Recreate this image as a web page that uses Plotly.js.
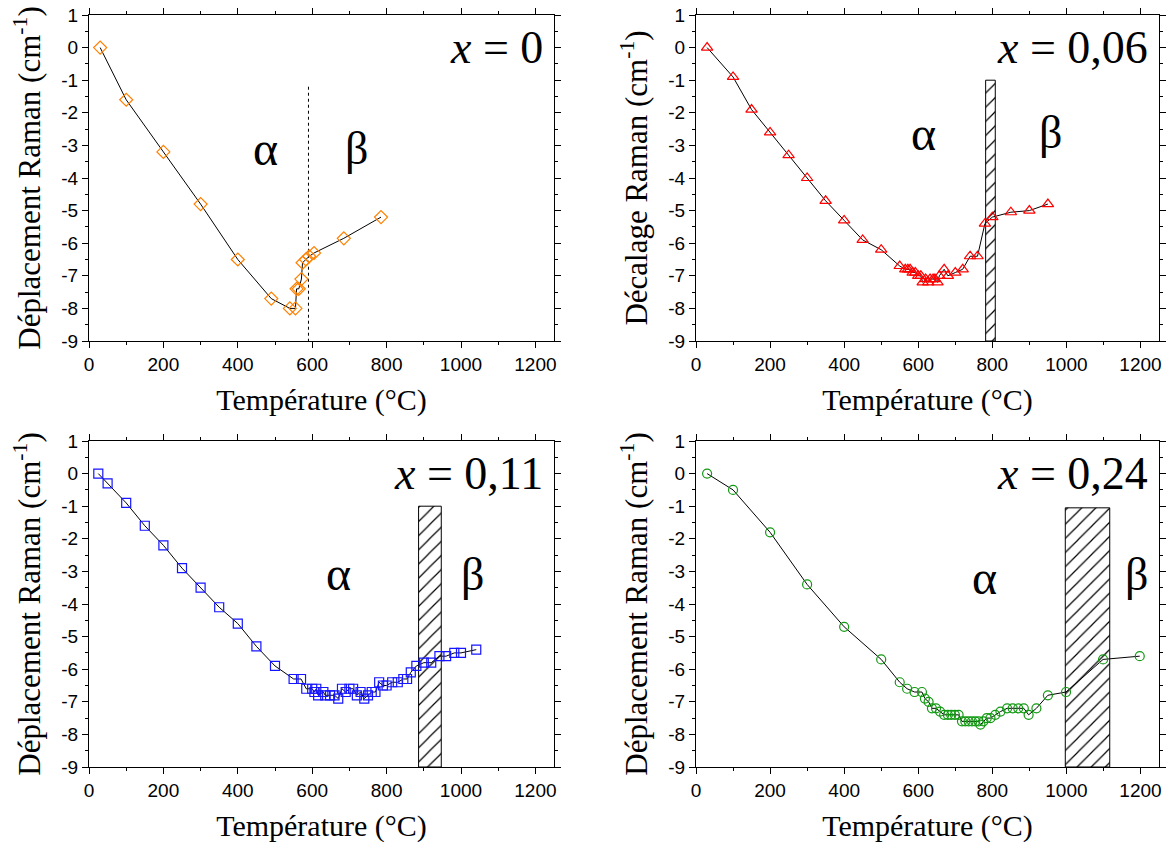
<!DOCTYPE html>
<html>
<head>
<meta charset="utf-8">
<script src="https://cdn.plot.ly/plotly-3.0.1.min.js"></script>
<style>html,body{margin:0;padding:0;background:#fff;}#chart{width:1173px;height:845px;}</style>
</head>
<body>
<div id="chart"></div>
<script>
// ---------- Data ----------
// x = 0 (orange diamonds)
const tempX0  = [30, 100, 200, 300, 400, 490, 540, 555, 558, 564, 571, 574, 583, 592, 605, 685, 785];
const shiftX0 = [0, -1.6, -3.2, -4.8, -6.5, -7.7, -8.0, -8.0, -7.4, -7.4, -7.1, -6.6, -6.5, -6.4, -6.3, -5.85, -5.2];

// x = 0,06 (red triangles)
const tempX06  = [30, 100, 150, 200, 250, 300, 350, 400, 450, 500, 550, 565, 572, 578, 585, 592, 600, 607, 612, 620, 627, 632, 640, 645, 652, 657, 670, 680, 700, 720, 740, 760, 780, 800, 850, 900, 950];
const shiftX06 = [0, -0.9, -1.9, -2.6, -3.3, -4.0, -4.7, -5.3, -5.9, -6.2, -6.7, -6.8, -6.8, -6.8, -6.9, -6.9, -7.0, -7.0, -7.2, -7.1, -7.2, -7.1, -7.1, -7.1, -7.2, -7.0, -6.8, -7.0, -6.9, -6.8, -6.4, -6.4, -5.4, -5.2, -5.05, -5.0, -4.8];

// x = 0,11 (blue squares)
const tempX11  = [25, 50, 100, 150, 200, 250, 300, 350, 400, 450, 500, 550, 570, 584, 600, 606, 611, 616, 630, 635, 648, 660, 670, 680, 690, 700, 710, 720, 730, 740, 750, 760, 770, 780, 790, 800, 815, 830, 845, 855, 865, 880, 900, 920, 942, 960, 982, 1000, 1041];
const shiftX11 = [0, -0.3, -0.9, -1.6, -2.2, -2.9, -3.5, -4.1, -4.6, -5.3, -5.9, -6.3, -6.3, -6.6, -6.6, -6.7, -6.6, -6.8, -6.7, -6.8, -6.8, -6.8, -6.9, -6.6, -6.7, -6.6, -6.6, -6.8, -6.7, -6.9, -6.8, -6.7, -6.7, -6.4, -6.5, -6.5, -6.4, -6.4, -6.3, -6.3, -6.1, -5.9, -5.8, -5.8, -5.6, -5.6, -5.5, -5.5, -5.4];

// x = 0,24 (green circles)
const tempX24  = [30, 100, 200, 300, 400, 500, 550, 570, 590, 610, 618, 628, 637, 648, 659, 670, 680, 689, 699, 709, 718, 727, 736, 745, 754, 763, 768, 776, 785, 795, 808, 822, 840, 855, 870, 885, 898, 919, 950, 999, 1099, 1198];
const shiftX24 = [0, -0.5, -1.8, -3.4, -4.7, -5.7, -6.4, -6.6, -6.7, -6.7, -6.9, -7.0, -7.2, -7.2, -7.3, -7.4, -7.4, -7.4, -7.4, -7.4, -7.6, -7.6, -7.6, -7.6, -7.6, -7.6, -7.7, -7.6, -7.5, -7.5, -7.4, -7.3, -7.2, -7.2, -7.2, -7.2, -7.4, -7.2, -6.8, -6.7, -5.7, -5.6];

// α/β transition (x = 0: dotted line; others: hatched band)
const transLineX0 = [590, 590];
const transLineY0 = [-1.2, -9];
const bandStart = [782, 886, 997];   // x = 0,06 ; 0,11 ; 0,24
const bandEnd   = [808, 947, 1117];
const bandTop   = [-1.0, -1.0, -1.05];
const bandBottom = -9;

// Tick labels
const xTickVals = [0, 200, 400, 600, 800, 1000, 1200];
const xTickText = ['0', '200', '400', '600', '800', '1000', '1200'];
const yTickVals = [1, 0, -1, -2, -3, -4, -5, -6, -7, -8, -9];
const yTickText = ['1', '0', '-1', '-2', '-3', '-4', '-5', '-6', '-7', '-8', '-9'];

// Texts
const panelLabels = ['<i>x</i> = 0', '<i>x</i> = 0,06', '<i>x</i> = 0,11', '<i>x</i> = 0,24'];
const yTitles = ['Déplacement Raman (cm<sup>-1</sup>)', 'Décalage Raman (cm<sup>-1</sup>)', 'Déplacement Raman (cm<sup>-1</sup>)', 'Déplacement Raman (cm<sup>-1</sup>)'];
const xTitle = 'Température (°C)';
const alphaPos = [[474, -3.08], [614, -2.65], [670, -3.05], [778, -3.2]];
const betaPos  = [[720, -3.1], [957, -2.6], [1032, -3.1], [1189, -3.1]];

// ---------- Styling ----------
const SERIF = 'Liberation Serif, Times New Roman, serif';
const SANS = 'Liberation Sans, Arial, sans-serif';
const W = 1173, H = 845;
const px = (a, b) => [a / W, b / W];
const py = (top, bot) => [(H - bot) / H, (H - top) / H];

const xDomL = px(89, 554), xDomR = px(696, 1159);
const yDomT = py(15, 341), yDomB = py(441, 767);

function xAxis(domain, anchor) {
  return {
    domain: domain, anchor: anchor, range: [0, 1250],
    tickmode: 'array', tickvals: xTickVals, ticktext: xTickText,
    ticks: 'outside', ticklen: 6, tickwidth: 1, tickcolor: '#000',
    minor: {tickmode: 'linear', tick0: 0, dtick: 100, ticks: 'outside', ticklen: 3, tickwidth: 1, tickcolor: '#000'},
    showline: true, linecolor: '#000', linewidth: 1, mirror: 'allticks',
    showgrid: false, zeroline: false,
    tickfont: {family: SANS, size: 19, color: '#000'},
    title: {text: xTitle, font: {family: SERIF, size: 30, color: '#000'}, standoff: 15}
  };
}
function yAxis(domain, anchor, title) {
  return {
    domain: domain, anchor: anchor, range: [-9, 1],
    tickmode: 'array', tickvals: yTickVals, ticktext: yTickText,
    ticks: 'outside', ticklen: 6, tickwidth: 1, tickcolor: '#000',
    minor: {tickmode: 'linear', tick0: 0, dtick: 0.5, ticks: 'outside', ticklen: 3, tickwidth: 1, tickcolor: '#000'},
    showline: true, linecolor: '#000', linewidth: 1, mirror: 'allticks',
    showgrid: false, zeroline: false,
    tickfont: {family: SANS, size: 19, color: '#000'},
    title: {text: title, font: {family: SERIF, size: 31, color: '#000'}, standoff: 11}
  };
}

function series(x, y, xa, ya, symbol, color, size) {
  return {
    type: 'scatter', mode: 'lines+markers', x: x, y: y, xaxis: xa, yaxis: ya,
    line: {color: '#000', width: 1},
    marker: {symbol: symbol, size: size, color: color, line: {color: color, width: 1.2}},
    showlegend: false, hoverinfo: 'x+y'
  };
}
function band(i, xa, ya) {
  return {
    type: 'bar', x: [(bandStart[i] + bandEnd[i]) / 2], y: [bandTop[i] - bandBottom],
    base: [bandBottom], width: [bandEnd[i] - bandStart[i]], xaxis: xa, yaxis: ya,
    marker: {color: '#fff', line: {color: '#000', width: 1},
             pattern: {shape: '/', fgcolor: '#000', bgcolor: '#fff', size: 10, solidity: 0.12}},
    showlegend: false, hoverinfo: 'skip'
  };
}

const traces = [
  {type: 'scatter', mode: 'lines', x: transLineX0, y: transLineY0, xaxis: 'x', yaxis: 'y',
   line: {color: '#000', width: 1, dash: 'dot'}, showlegend: false, hoverinfo: 'skip'},
  band(0, 'x2', 'y2'), band(1, 'x3', 'y3'), band(2, 'x4', 'y4'),
  series(tempX0, shiftX0, 'x', 'y', 'diamond-open', '#ff8000', 10),
  series(tempX06, shiftX06, 'x2', 'y2', 'triangle-up-open', '#ff0000', 10),
  series(tempX11, shiftX11, 'x3', 'y3', 'square-open', '#1515ff', 9),
  series(tempX24, shiftX24, 'x4', 'y4', 'circle-open', '#119911', 9)
];

const axPairs = [['x', 'y'], ['x2', 'y2'], ['x3', 'y3'], ['x4', 'y4']];
const annotations = [];
axPairs.forEach((p, i) => {
  annotations.push({xref: p[0] + ' domain', yref: p[1] + ' domain', x: 0.98, y: 0.985,
    xanchor: 'right', yanchor: 'top', showarrow: false, text: panelLabels[i],
    font: {family: SERIF, size: 46, color: '#000'}});
  annotations.push({xref: p[0], yref: p[1], x: alphaPos[i][0], y: alphaPos[i][1],
    xanchor: 'center', yanchor: 'middle', showarrow: false, text: 'α',
    font: {family: SERIF, size: 48, color: '#000'}});
  annotations.push({xref: p[0], yref: p[1], x: betaPos[i][0], y: betaPos[i][1],
    xanchor: 'center', yanchor: 'middle', showarrow: false, text: 'β',
    font: {family: SERIF, size: 46, color: '#000'}});
});

const layout = {
  width: W, height: H, margin: {l: 0, r: 0, t: 0, b: 0},
  paper_bgcolor: '#fff', plot_bgcolor: '#fff', showlegend: false,
  xaxis: xAxis(xDomL, 'y'), yaxis: yAxis(yDomT, 'x', yTitles[0]),
  xaxis2: xAxis(xDomR, 'y2'), yaxis2: yAxis(yDomT, 'x2', yTitles[1]),
  xaxis3: xAxis(xDomL, 'y3'), yaxis3: yAxis(yDomB, 'x3', yTitles[2]),
  xaxis4: xAxis(xDomR, 'y4'), yaxis4: yAxis(yDomB, 'x4', yTitles[3]),
  annotations: annotations
};

Plotly.newPlot('chart', traces, layout, {staticPlot: true, displayModeBar: false});
</script>
</body>
</html>
